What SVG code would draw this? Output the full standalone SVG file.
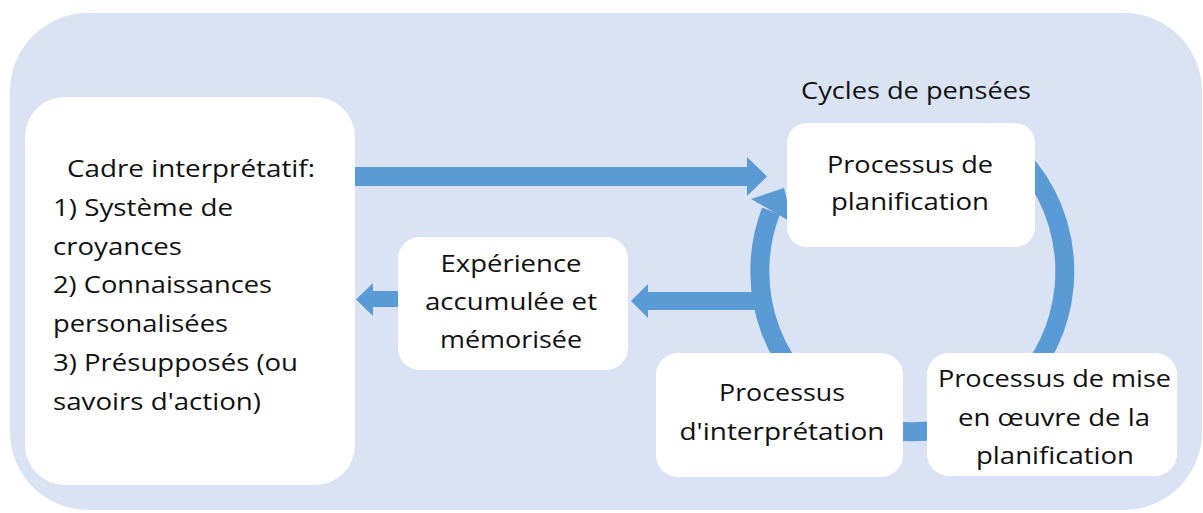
<svg xmlns="http://www.w3.org/2000/svg" width="1203" height="513" viewBox="0 0 1203 513">
  <style>
    .bg { fill: #dae3f3; }
    .box { fill: #ffffff; }
    .t { font-family: "Open Sans", "Noto Sans", "Liberation Sans", sans-serif; font-size: 24.5px; fill: #111111; }
    .arr { fill: #5b9bd5; }
    .ring { fill: none; stroke: #5b9bd5; stroke-width: 19; }
  </style>
  <rect class="bg" x="10" y="13" width="1192" height="497" rx="78" ry="78"/>

  <g id="connectors">
    <path class="ring" d="M 986.3 131 A 152.5 160.5 0 1 1 771 211"/>
    <polygon class="arr" points="751,199 784,188 793,223"/>
    <polygon class="arr" points="350,167 747,167 747,157 767,176.5 747,196 747,186 350,186"/>
    <polygon class="arr" points="760,292 648,292 648,284 631,301 648,318 648,310 760,310"/>
    <polygon class="arr" points="405,291 373,291 373,283 356,299.5 373,316 373,307 405,307"/>
  </g>

  <g id="cycles-label">
    <text class="t" x="801" y="99" textLength="230" lengthAdjust="spacingAndGlyphs">Cycles de pensées</text>
  </g>

  <g id="cadre">
    <rect class="box" x="25" y="97" width="330" height="388" rx="40" ry="40"/>
    <text class="t" x="67" y="177" textLength="248" lengthAdjust="spacingAndGlyphs">Cadre interprétatif:</text>
    <text class="t" x="53" y="216" textLength="180" lengthAdjust="spacingAndGlyphs">1) Système de</text>
    <text class="t" x="53" y="255" textLength="129" lengthAdjust="spacingAndGlyphs">croyances</text>
    <text class="t" x="53" y="293" textLength="219" lengthAdjust="spacingAndGlyphs">2) Connaissances</text>
    <text class="t" x="53" y="332" textLength="175" lengthAdjust="spacingAndGlyphs">personalisées</text>
    <text class="t" x="53" y="371" textLength="245" lengthAdjust="spacingAndGlyphs">3) Présupposés (ou</text>
    <text class="t" x="53" y="410" textLength="208" lengthAdjust="spacingAndGlyphs">savoirs d'action)</text>
  </g>

  <g id="experience">
    <rect class="box" x="398" y="237" width="230" height="133" rx="22" ry="22"/>
    <text class="t" x="440.5" y="272" textLength="141" lengthAdjust="spacingAndGlyphs">Expérience</text>
    <text class="t" x="425" y="310" textLength="172" lengthAdjust="spacingAndGlyphs">accumulée et</text>
    <text class="t" x="440" y="348" textLength="142" lengthAdjust="spacingAndGlyphs">mémorisée</text>
  </g>

  <g id="planification">
    <rect class="box" x="787" y="123" width="248" height="124" rx="20" ry="20"/>
    <text class="t" x="827" y="173" textLength="166" lengthAdjust="spacingAndGlyphs">Processus de</text>
    <text class="t" x="831" y="210" textLength="158" lengthAdjust="spacingAndGlyphs">planification</text>
  </g>

  <g id="interpretation">
    <rect class="box" x="656" y="353" width="247" height="124" rx="22" ry="22"/>
    <text class="t" x="719" y="401" textLength="126" lengthAdjust="spacingAndGlyphs">Processus</text>
    <text class="t" x="679.5" y="440" textLength="205" lengthAdjust="spacingAndGlyphs">d'interprétation</text>
  </g>

  <g id="mise-en-oeuvre">
    <rect class="box" x="927" y="353" width="250" height="123" rx="22" ry="22"/>
    <text class="t" x="938" y="387" textLength="233" lengthAdjust="spacingAndGlyphs">Processus de mise</text>
    <text class="t" x="958" y="426" textLength="192" lengthAdjust="spacingAndGlyphs">en œuvre de la</text>
    <text class="t" x="976" y="464" textLength="158" lengthAdjust="spacingAndGlyphs">planification</text>
  </g>
</svg>
